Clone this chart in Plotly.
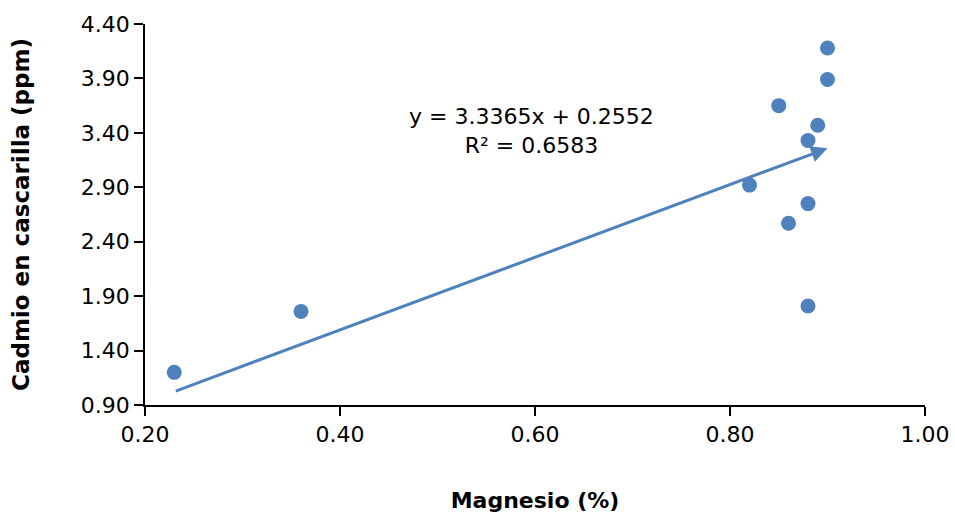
import plotly.graph_objects as go

# Magnesio (%) vs Cadmio en cascarilla (ppm)
magnesio = [0.23, 0.36, 0.82, 0.85, 0.86, 0.88, 0.88, 0.88, 0.89, 0.90, 0.90]
cadmio = [1.20, 1.76, 2.92, 3.65, 2.57, 3.33, 2.75, 1.81, 3.47, 4.18, 3.89]

# Linear trend reported for the series
slope = 3.3365
intercept = 0.2552
r2 = 0.6583

x_ticks = [0.20, 0.40, 0.60, 0.80, 1.00]
y_ticks = [0.90, 1.40, 1.90, 2.40, 2.90, 3.40, 3.90, 4.40]

blue = "#4F81BD"
font_family = "DejaVu Sans, Arial, sans-serif"

x0, x1 = min(magnesio), max(magnesio)
y0, y1 = slope * x0 + intercept, slope * x1 + intercept

fig = go.Figure()
fig.add_trace(go.Scatter(
    x=magnesio, y=cadmio, mode="markers",
    marker=dict(color=blue, size=15, line=dict(width=0)),
    showlegend=False, hoverinfo="x+y",
))

# Trend line with arrowhead at its end
fig.add_annotation(
    x=x1, y=y1, ax=x0, ay=y0,
    xref="x", yref="y", axref="x", ayref="y",
    showarrow=True, arrowhead=2, arrowsize=1.1, arrowwidth=3,
    arrowcolor=blue, text="",
)

fig.add_annotation(
    x=0.596, y=3.42, xref="x", yref="y",
    text=f"y = {slope:.4f}x + {intercept:.4f}<br>R² = {r2:.4f}",
    showarrow=False, align="center",
    font=dict(family=font_family, size=22, color="#000000"),
)

axis_common = dict(
    showgrid=False, zeroline=False, showline=True,
    linecolor="#000000", linewidth=1.5,
    ticks="outside", ticklen=9, tickwidth=1.5, tickcolor="#000000",
    tickfont=dict(family=font_family, size=22, color="#000000"),
    tickformat=".2f", automargin=False,
)

fig.update_layout(
    width=955, height=517,
    margin=dict(l=145, r=30, t=24, b=112),
    paper_bgcolor="white", plot_bgcolor="white",
    xaxis=dict(
        range=[0.2, 1.0], tickvals=x_ticks, **axis_common,
        title=dict(text="<b>Magnesio (%)</b>", standoff=46,
                   font=dict(family=font_family, size=22, color="#000000")),
    ),
    yaxis=dict(
        range=[0.9, 4.4], tickvals=y_ticks, **axis_common,
        title=dict(text="<b>Cadmio en cascarilla (ppm)</b>", standoff=45,
                   font=dict(family=font_family, size=23, color="#000000")),
    ),
)

fig.write_html("out.html")
